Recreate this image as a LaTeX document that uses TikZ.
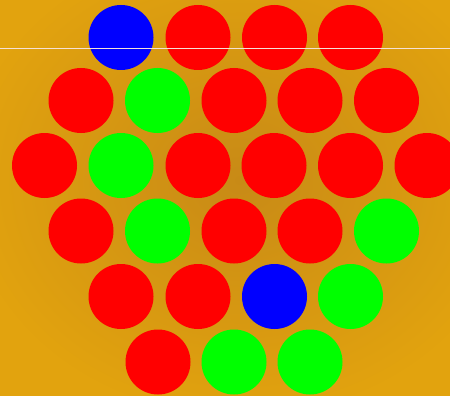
\documentclass[tikz,border=0pt]{standalone}
\usepackage{tikz}
\usetikzlibrary{positioning}
\definecolor{bgouter}{RGB}{226,163,14}
\definecolor{bginner}{RGB}{200,138,22}
\definecolor{ballred}{RGB}{255,0,0}
\definecolor{ballgreen}{RGB}{0,255,0}
\definecolor{ballblue}{RGB}{0,0,255}
\definecolor{scanline}{RGB}{245,225,215}

\begin{document}
\begin{tikzpicture}[
  x=1pt, y=-1pt,
  ball/.style={circle, inner sep=0pt, minimum size=65pt, draw=none},
  redball/.style={ball, fill=ballred},
  greenball/.style={ball, fill=ballgreen},
  blueball/.style={ball, fill=ballblue}
]
\useasboundingbox (0,0) rectangle (450,396);
\fill[bgouter] (0,0) rectangle (450,396);
\shade[inner color=bginner, outer color=bgouter] (-40,-60) rectangle (520,420);

% rows of the hexagonal layout
\foreach \xx/\col [count=\i] in {121/blue, 198/red, 274.5/red, 350.5/red}
  \node[\col ball] (a\i) at (\xx,37.5) {};
\foreach \xx/\col [count=\i] in {81/red, 157.5/green, 234/red, 310/red, 386.5/red}
  \node[\col ball] (b\i) at (\xx,100.5) {};
\foreach \xx/\col [count=\i] in {44.5/red, 121/green, 198/red, 274/red, 350.5/red, 427/red}
  \node[\col ball] (c\i) at (\xx,165.5) {};
\foreach \xx/\col [count=\i] in {81/red, 157.5/green, 234/red, 310/red, 386.5/green}
  \node[\col ball] (d\i) at (\xx,231) {};
\foreach \xx/\col [count=\i] in {121/red, 198/red, 274.5/blue, 350.5/green}
  \node[\col ball] (e\i) at (\xx,296.5) {};
\foreach \xx/\col [count=\i] in {158/red, 234/green, 310/green}
  \node[\col ball] (f\i) at (\xx,362) {};

% thin scan line
\coordinate (lineW) at (0,48);
\coordinate (lineE) at (450,48);
\draw[scanline, line width=0.8pt] (lineW) -- (lineE);
\end{tikzpicture}
\end{document}
